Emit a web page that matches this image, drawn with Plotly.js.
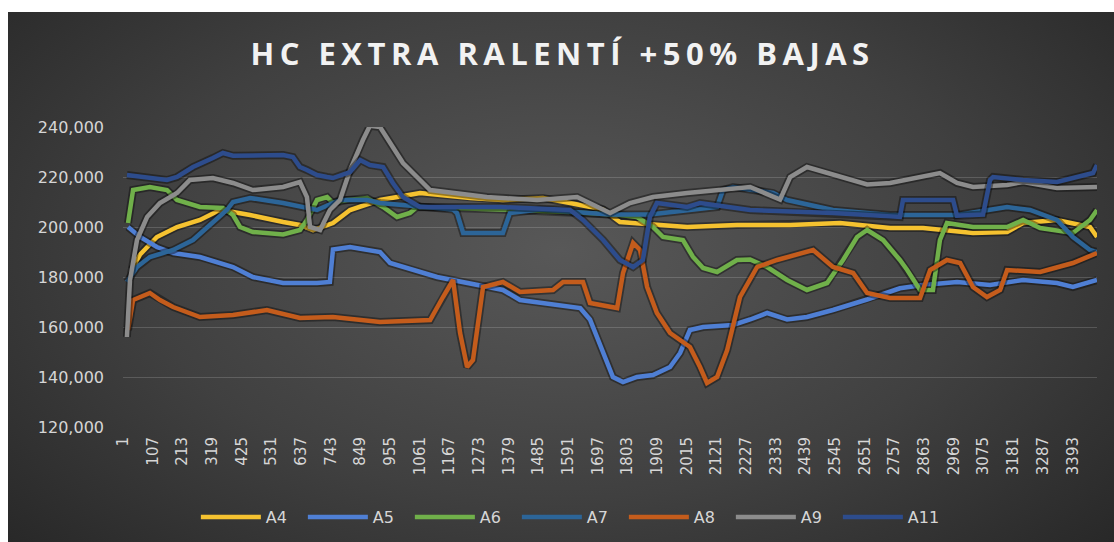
<!DOCTYPE html>
<html>
<head>
<meta charset="utf-8">
<script src="https://cdn.plot.ly/plotly-3.0.1.min.js"></script>
<style>
  html, body { margin: 0; padding: 0; background: #ffffff; }
  #frame {
    position: absolute; left: 8px; top: 12px; width: 1106px; height: 530px;
    background: radial-gradient(ellipse 70% 85% at 50% 45%, #585858 0%, #404040 55%, #262626 100%);
  }
  #chart { position: absolute; left: 0; top: 0; width: 1114px; height: 542px; }
  #chart .gtitle { letter-spacing: 5.5px; }
</style>
</head>
<body>
<div id="frame"></div>
<div id="chart"></div>
<script>
// Sample index (row number) and HC reading for each run
const xA4 = [33, 62, 122, 194, 276, 347, 394, 455, 573, 633, 680, 751, 812, 919, 1062, 1241, 1358, 1501, 1598, 1716, 1776, 1894, 2016, 2194, 2384, 2562, 2741, 2859, 3037, 3159, 3216, 3337, 3455, 3480];
const yA4 = [183000, 189000, 196000, 200000, 202800, 206800, 206000, 204800, 202000, 200800, 198800, 201600, 206800, 210800, 213600, 211600, 210800, 211600, 209600, 207000, 202000, 200800, 200000, 200800, 200800, 201600, 199600, 199600, 197600, 198000, 201600, 202800, 200000, 196000];

const xA5 = [19, 62, 122, 180, 276, 394, 465, 573, 694, 740, 751, 812, 919, 955, 1123, 1266, 1358, 1419, 1537, 1634, 1669, 1716, 1751, 1787, 1837, 1894, 1955, 1991, 2026, 2073, 2180, 2241, 2302, 2373, 2444, 2537, 2659, 2776, 2859, 2980, 3098, 3216, 3337, 3394, 3480];
const yA5 = [200000, 196000, 192000, 189600, 188000, 184000, 180000, 177600, 177600, 178000, 191000, 192000, 190000, 185600, 180000, 176800, 174800, 170800, 168800, 167600, 163000, 149600, 140000, 138000, 140000, 140800, 144000, 149600, 158800, 160000, 160800, 163000, 165600, 163000, 164000, 166800, 171000, 175500, 176800, 178000, 176800, 178800, 177600, 176000, 178800];

const xA6 = [19, 37, 97, 158, 194, 276, 358, 394, 419, 465, 573, 633, 658, 694, 730, 751, 801, 873, 930, 980, 1026, 1051, 1348, 1598, 1776, 1837, 1894, 1930, 2001, 2037, 2073, 2123, 2194, 2241, 2302, 2373, 2444, 2516, 2573, 2623, 2659, 2716, 2776, 2802, 2848, 2894, 2919, 2944, 3037, 3159, 3216, 3277, 3394, 3455, 3480];
const yA6 = [201600, 214800, 216000, 214800, 210800, 208000, 207600, 204800, 200000, 198000, 197000, 198800, 202800, 210800, 212000, 209600, 210800, 211600, 208000, 204000, 205600, 208000, 207000, 206000, 204800, 204000, 200000, 196000, 194800, 188000, 183600, 182000, 186800, 187000, 184000, 178800, 174800, 177600, 186800, 196000, 198800, 194800, 186800, 182800, 174800, 174800, 194800, 201600, 200000, 200000, 202800, 199600, 197600, 202800, 206800];

const xA7 = [15, 51, 97, 180, 251, 322, 372, 394, 455, 573, 633, 694, 776, 873, 919, 1062, 1180, 1194, 1216, 1358, 1383, 1490, 1634, 1741, 1883, 2062, 2123, 2144, 2180, 2323, 2373, 2537, 2741, 2980, 3159, 3241, 3337, 3394, 3455, 3480];
const yA7 = [178000, 184000, 188000, 190800, 194800, 201600, 206800, 210000, 211600, 209600, 208000, 206800, 210800, 210800, 209600, 208000, 207000, 205600, 197600, 197600, 205600, 207000, 206000, 205000, 205000, 207000, 208000, 214800, 216000, 213600, 210800, 206800, 204800, 204800, 208000, 206800, 202800, 196000, 190800, 190000];

const xA8 = [19, 37, 97, 133, 180, 276, 394, 515, 633, 751, 919, 1098, 1144, 1180, 1205, 1230, 1251, 1287, 1358, 1419, 1537, 1573, 1644, 1669, 1766, 1787, 1823, 1848, 1873, 1908, 1955, 2026, 2062, 2087, 2123, 2159, 2205, 2266, 2337, 2420, 2466, 2537, 2609, 2659, 2741, 2848, 2884, 2944, 2991, 3037, 3087, 3134, 3159, 3277, 3337, 3394, 3480];
const yA8 = [158800, 170800, 173600, 170800, 168000, 164000, 164800, 166800, 163600, 164000, 162000, 162800, 172000, 178800, 157600, 144000, 146800, 176000, 178000, 174000, 174800, 178000, 178000, 169600, 167600, 181600, 193600, 190800, 176000, 165600, 157600, 152000, 144000, 137600, 140000, 150800, 172000, 184000, 186800, 189600, 190800, 184000, 181600, 173600, 171600, 171600, 182800, 186800, 185600, 176000, 172000, 174800, 182800, 182000, 184000, 185600, 189600];

const xA9 = [15, 26, 51, 87, 133, 194, 240, 322, 394, 465, 573, 633, 658, 669, 705, 740, 776, 812, 858, 883, 919, 965, 1001, 1062, 1098, 1301, 1480, 1623, 1694, 1741, 1812, 1894, 2016, 2134, 2241, 2348, 2384, 2444, 2537, 2659, 2741, 2859, 2919, 2980, 3037, 3159, 3216, 3337, 3480];
const yA9 = [156000, 178800, 194800, 204000, 209600, 213600, 218800, 219600, 217600, 214800, 216000, 218000, 212000, 200000, 198800, 206800, 210800, 222800, 234800, 240500, 240000, 232000, 225600, 218800, 214800, 212000, 210800, 212000, 208000, 205600, 209600, 212000, 213600, 214800, 216000, 211000, 220000, 224000, 221000, 217000, 217600, 220000, 221600, 217600, 216000, 216800, 218000, 215600, 216000];

const xA11 = [15, 97, 158, 194, 251, 322, 358, 394, 573, 608, 633, 658, 694, 730, 751, 812, 848, 883, 930, 965, 1001, 1062, 1348, 1598, 1644, 1716, 1776, 1823, 1858, 1883, 1908, 2016, 2062, 2241, 2537, 2776, 2787, 2966, 2980, 3073, 3098, 3109, 3216, 3337, 3466, 3480];
const yA11 = [220800, 219600, 218800, 220000, 224000, 227600, 229600, 228500, 228800, 228000, 224000, 222800, 220800, 220000, 219600, 222000, 226800, 224800, 224000, 217600, 212000, 208000, 208000, 206800, 202800, 194800, 186800, 184000, 186800, 204000, 209600, 208000, 209600, 206800, 205600, 204000, 210800, 210800, 204500, 205000, 218800, 220000, 218800, 218000, 221600, 224800];

const seriesNames = ["A4", "A5", "A6", "A7", "A8", "A9", "A11"];
const seriesX = [xA4, xA5, xA6, xA7, xA8, xA9, xA11];
const seriesY = [yA4, yA5, yA6, yA7, yA8, yA9, yA11];
const seriesColors = ["#f5c230", "#4f7fd4", "#70b04a", "#2c6598", "#c45c1c", "#8c8c8c", "#2d4c8c"];

// Category labels shown along the horizontal axis
const tickLabels = ["1", "107", "213", "319", "425", "531", "637", "743", "849", "955", "1061", "1167", "1273", "1379", "1485", "1591", "1697", "1803", "1909", "2015", "2121", "2227", "2333", "2439", "2545", "2651", "2757", "2863", "2969", "3075", "3181", "3287", "3393"];
const tickValues = tickLabels.map(Number);

const traces = [];
seriesNames.forEach((name, i) => {
  // soft drop shadow under each run, drawn just before its line
  traces.push({
    x: seriesX[i], y: seriesY[i], type: "scatter", mode: "lines",
    line: { color: "rgba(0,0,0,0.38)", width: 8 },
    showlegend: false, hoverinfo: "skip"
  });
  traces.push({
    x: seriesX[i], y: seriesY[i], type: "scatter", mode: "lines", name: name,
    line: { color: seriesColors[i], width: 4.5 }
  });
});

const layout = {
  width: 1114, height: 542,
  paper_bgcolor: "rgba(0,0,0,0)",
  plot_bgcolor: "rgba(0,0,0,0)",
  margin: { l: 123, r: 17, t: 127, b: 115 },
  title: {
    text: "<b>HC EXTRA RALENTÍ +50% BAJAS</b>",
    font: { family: "Open Sans, DejaVu Sans, sans-serif", size: 31, color: "#f2f2f2" },
    x: 0.505, xref: "container", xanchor: "center",
    y: 1 - 54 / 542, yref: "container", yanchor: "middle"
  },
  xaxis: {
    range: [1, 3480],
    tickmode: "array", tickvals: tickValues, ticktext: tickLabels,
    tickangle: -90,
    tickfont: { family: "DejaVu Sans, sans-serif", size: 15, color: "#d6d6d6" },
    ticks: "", showgrid: false, zeroline: false, showline: false,
    ticklabelstandoff: 6
  },
  yaxis: {
    range: [120000, 240000],
    tickvals: [120000, 140000, 160000, 180000, 200000, 220000, 240000],
    tickformat: ",d",
    tickfont: { family: "DejaVu Sans, sans-serif", size: 16, color: "#d6d6d6" },
    gridcolor: "rgba(255,255,255,0.16)", gridwidth: 1,
    zeroline: false, showline: false, ticks: "",
    ticklabelstandoff: 18
  },
  legend: {
    orientation: "h",
    xref: "container", yref: "container",
    x: 0.512, xanchor: "center",
    y: 1 - 517 / 542, yanchor: "middle",
    font: { family: "DejaVu Sans, sans-serif", size: 16, color: "#d6d6d6" },
    bgcolor: "rgba(0,0,0,0)",
    itemwidth: 60,
    entrywidth: 32,
    entrywidthmode: "pixels",
    tracegroupgap: 0
  },
  showlegend: true
};

Plotly.newPlot("chart", traces, layout, { displayModeBar: false, staticPlot: true });
</script>
</body>
</html>
